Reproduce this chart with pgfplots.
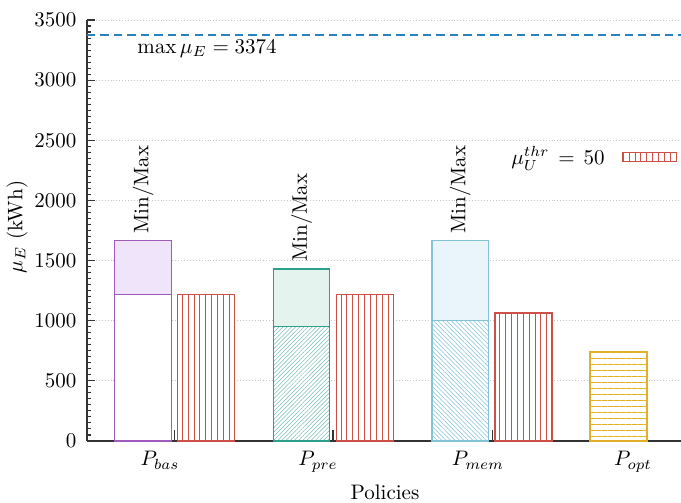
\documentclass[border=0pt]{standalone}
\usepackage{pgfplots}
\pgfplotsset{compat=1.18}
\usetikzlibrary{patterns.meta}
\definecolor{cpur}{RGB}{160,90,190}
\definecolor{cpurF}{RGB}{240,228,250}
\definecolor{cgrn}{RGB}{45,160,140}
\definecolor{cgrnF}{RGB}{229,243,238}
\definecolor{cblu}{RGB}{130,195,215}
\definecolor{cbluF}{RGB}{233,244,251}
\definecolor{cred}{RGB}{205,80,70}
\definecolor{cyel}{RGB}{225,175,40}
\definecolor{dashblue}{RGB}{40,130,190}
\begin{document}
\begin{tikzpicture}
\begin{axis}[
  at={(0pt,0pt)}, anchor=south west,
  scale only axis, width=282.86pt, height=200.48pt,
  xmin=87, xmax=681, ymin=0, ymax=3500,
  axis x line=bottom, axis y line=left,
  axis line style={-, black!80, line width=0.6pt},
  ytick={0,500,...,3500}, minor y tick num=9,
  /pgf/number format/set thousands separator={},
  tick align=inside, major tick length=3.6pt, minor tick length=2pt,
  y tick style={black!80, line width=0.5pt},
  xtick={160,318,478,633},
  xticklabels={$P_{bas}$,$P_{pre}$,$P_{mem}$,$P_{opt}$},
  x tick style={draw=none},
  xticklabel style={yshift=-1.5pt},
  yticklabel style={xshift=-1.5pt},
  ymajorgrids, grid style={densely dotted, gray!45, line width=0.4pt},
  xlabel={Policies}, ylabel={$\mu_E$ (kWh)},
  every axis x label/.style={at={(axis description cs:0.5017,-0.121)}, anchor=center},
  every axis y label/.style={at={(axis description cs:-0.1178,0.508)}, rotate=90, anchor=center},
  clip=false,
  legend style={draw=none, fill=none, at={(axis cs:677,2361)}, anchor=east, inner sep=0pt,
    nodes={inner sep=1pt}, /tikz/every odd column/.append style={column sep=7pt}},
  legend plot pos=right,
]
% dashed max line
\addplot[color=dashblue, draw=dashblue, line width=0.7pt, dash pattern=on 4pt off 2.4pt, forget plot] coordinates {(87,3374) (681,3374)};
% P_bas
\addplot[ybar, bar width=57.4, bar shift=0pt, draw=cpur, fill=cpurF, line width=0.5pt, forget plot] coordinates {(143,1663)};
\addplot[ybar, bar width=57.4, bar shift=0pt, draw=cpur, fill=white, line width=0.5pt, forget plot] coordinates {(143,1215)};
% P_pre
\addplot[ybar, bar width=56.4, bar shift=0pt, draw=cgrn, fill=cgrnF, line width=0.5pt, forget plot] coordinates {(301.5,1430)};
\addplot[ybar, bar width=56.4, bar shift=0pt, draw=cgrn, fill=white, line width=0.5pt, forget plot,
  postaction={pattern={Lines[angle=45,distance=1.4pt,line width=0.25pt]}, pattern color=cgrn!65}] coordinates {(301.5,948)};
% P_mem
\addplot[ybar, bar width=56.4, bar shift=0pt, draw=cblu, fill=cbluF, line width=0.5pt, forget plot] coordinates {(460.2,1663)};
\addplot[ybar, bar width=56.4, bar shift=0pt, draw=cblu, fill=white, line width=0.5pt, forget plot,
  postaction={pattern={Lines[angle=-45,distance=1.5pt,line width=0.25pt]}, pattern color=cblu}] coordinates {(460.2,998)};
% P_opt
\addplot[ybar, bar width=57, bar shift=0pt, draw=cyel, fill=white, line width=0.5pt, forget plot,
  postaction={pattern={Lines[angle=0,distance=2.85pt,line width=0.4pt]}, pattern color=cyel}] coordinates {(618.5,740)};
% tick marks
\addplot[black!80, line width=0.6pt, forget plot] coordinates {(174.3,0) (174.3,90)};
\addplot[black!80, line width=0.6pt, forget plot] coordinates {(333,0) (333,90)};
\addplot[black!80, line width=0.6pt, forget plot] coordinates {(492.3,0) (492.3,90)};
% threshold bars
\addplot[ybar, bar width=57, bar shift=0pt, draw=cred, fill=white, line width=0.5pt, forget plot,
  postaction={pattern={Lines[angle=90,distance=2.8pt,line width=0.45pt]}, pattern color=cred}]
  coordinates {(206.1,1215) (365.2,1215) (523.5,1064)};
\addlegendimage{legend image code/.code={\draw[draw=cred, line width=0.5pt, pattern={Lines[angle=90,distance=2.8pt,line width=0.45pt]}, pattern color=cred] (0pt,-2.1pt) rectangle (25.7pt,2.1pt);}}
\addlegendentry{$\mu_U^{thr}\hskip1.5pt=\hskip1.5pt50$}
% annotations
\node[rotate=90, anchor=west] at (axis cs:143,1663) {Min/Max};
\node[rotate=90, anchor=west] at (axis cs:301.5,1430) {Min/Max};
\node[rotate=90, anchor=west] at (axis cs:460.2,1663) {Min/Max};
\node at (axis cs:207,3262) {$\max\mu_E = 3374$};
\end{axis}
\pgfresetboundingbox
\path (-41.43pt,-29.05pt) rectangle (282.86pt,210pt);
\end{tikzpicture}
\end{document}
